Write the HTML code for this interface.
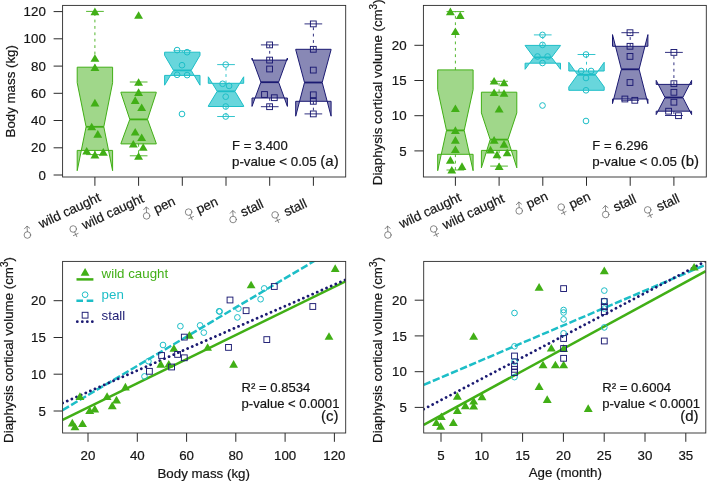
<!DOCTYPE html>
<html><head><meta charset="utf-8"><title>Figure</title>
<style>html,body{margin:0;padding:0;background:#fff;}svg{display:block;will-change:transform;}text{font-family:"Liberation Sans",sans-serif;stroke-width:0.2px;paint-order:stroke;}</style>
</head><body>
<svg width="708" height="483" viewBox="0 0 708 483">
<rect x="0" y="0" width="708" height="483" fill="#ffffff"/>
<line x1="94.9" y1="67.2" x2="94.9" y2="11.4" stroke="#41AF16" stroke-width="0.9" stroke-dasharray="2.8 3.6"/>
<line x1="86.1" y1="11.4" x2="103.8" y2="11.4" stroke="#41AF16" stroke-width="0.9"/>
<line x1="94.9" y1="150.4" x2="94.9" y2="154.6" stroke="#41AF16" stroke-width="0.9" stroke-dasharray="2.8 3.6"/>
<line x1="86.1" y1="154.6" x2="103.8" y2="154.6" stroke="#41AF16" stroke-width="0.9"/>
<polygon points="77.2,150.4 112.6,150.4 112.6,170.7 103.8,126.8 112.6,82.7 112.6,67.2 77.2,67.2 77.2,82.7 86.1,126.8 77.2,170.7" fill="rgba(65,175,22,0.50)" stroke="#41AF16" stroke-width="1" stroke-linejoin="miter" fill-rule="nonzero"/>
<line x1="86.1" y1="126.8" x2="103.8" y2="126.8" stroke="#41AF16" stroke-width="1.8"/>
<line x1="138.6" y1="92.2" x2="138.6" y2="82.0" stroke="#41AF16" stroke-width="0.9" stroke-dasharray="2.8 3.6"/>
<line x1="129.8" y1="82.0" x2="147.5" y2="82.0" stroke="#41AF16" stroke-width="0.9"/>
<line x1="138.6" y1="143.9" x2="138.6" y2="155.8" stroke="#41AF16" stroke-width="0.9" stroke-dasharray="2.8 3.6"/>
<line x1="129.8" y1="155.8" x2="147.5" y2="155.8" stroke="#41AF16" stroke-width="0.9"/>
<polygon points="120.9,143.9 156.3,143.9 156.3,143.6 147.5,119.4 156.3,92.6 156.3,92.2 120.9,92.2 120.9,92.6 129.8,119.4 120.9,143.6" fill="rgba(65,175,22,0.50)" stroke="#41AF16" stroke-width="1" stroke-linejoin="miter" fill-rule="nonzero"/>
<line x1="129.8" y1="119.4" x2="147.5" y2="119.4" stroke="#41AF16" stroke-width="1.8"/>
<line x1="182.3" y1="52.2" x2="182.3" y2="50.7" stroke="#1DBEC7" stroke-width="0.9" stroke-dasharray="2.8 3.6"/>
<line x1="173.5" y1="50.7" x2="191.2" y2="50.7" stroke="#1DBEC7" stroke-width="0.9"/>
<polygon points="164.6,75.4 200.0,75.4 200.0,85.2 191.2,70.4 200.0,55.3 200.0,52.2 164.6,52.2 164.6,55.3 173.5,70.4 164.6,85.2" fill="rgba(33,195,203,0.68)" stroke="#1DBEC7" stroke-width="1" stroke-linejoin="miter" fill-rule="nonzero"/>
<line x1="173.5" y1="70.4" x2="191.2" y2="70.4" stroke="#1DBEC7" stroke-width="1.8"/>
<line x1="226.0" y1="83.3" x2="226.0" y2="64.6" stroke="#1DBEC7" stroke-width="0.9" stroke-dasharray="2.8 3.6"/>
<line x1="217.2" y1="64.6" x2="234.9" y2="64.6" stroke="#1DBEC7" stroke-width="0.9"/>
<line x1="226.0" y1="106.5" x2="226.0" y2="116.5" stroke="#1DBEC7" stroke-width="0.9" stroke-dasharray="2.8 3.6"/>
<line x1="217.2" y1="116.5" x2="234.9" y2="116.5" stroke="#1DBEC7" stroke-width="0.9"/>
<polygon points="208.3,106.5 243.7,106.5 243.7,106.0 234.9,91.3 243.7,76.8 243.7,83.3 208.3,83.3 208.3,76.8 217.2,91.3 208.3,106.0" fill="rgba(33,195,203,0.68)" stroke="#1DBEC7" stroke-width="1" stroke-linejoin="miter" fill-rule="nonzero"/>
<line x1="217.2" y1="91.3" x2="234.9" y2="91.3" stroke="#1DBEC7" stroke-width="1.8"/>
<line x1="269.7" y1="60.1" x2="269.7" y2="44.9" stroke="#1B1A72" stroke-width="0.9" stroke-dasharray="2.8 3.6"/>
<line x1="260.9" y1="44.9" x2="278.6" y2="44.9" stroke="#1B1A72" stroke-width="0.9"/>
<line x1="269.7" y1="98.0" x2="269.7" y2="106.7" stroke="#1B1A72" stroke-width="0.9" stroke-dasharray="2.8 3.6"/>
<line x1="260.9" y1="106.7" x2="278.6" y2="106.7" stroke="#1B1A72" stroke-width="0.9"/>
<polygon points="252.0,98.0 287.4,98.0 287.4,106.4 278.6,82.2 287.4,58.0 287.4,60.1 252.0,60.1 252.0,58.0 260.9,82.2 252.0,106.4" fill="rgba(27,26,114,0.52)" stroke="#1B1A72" stroke-width="1" stroke-linejoin="miter" fill-rule="nonzero"/>
<line x1="260.9" y1="82.2" x2="278.6" y2="82.2" stroke="#1B1A72" stroke-width="1.8"/>
<line x1="313.4" y1="49.3" x2="313.4" y2="23.9" stroke="#1B1A72" stroke-width="0.9" stroke-dasharray="2.8 3.6"/>
<line x1="304.5" y1="23.9" x2="322.2" y2="23.9" stroke="#1B1A72" stroke-width="0.9"/>
<line x1="313.4" y1="101.3" x2="313.4" y2="113.9" stroke="#1B1A72" stroke-width="0.9" stroke-dasharray="2.8 3.6"/>
<line x1="304.5" y1="113.9" x2="322.2" y2="113.9" stroke="#1B1A72" stroke-width="0.9"/>
<polygon points="295.7,101.3 331.1,101.3 331.1,116.2 322.2,82.5 331.1,49.6 331.1,49.3 295.7,49.3 295.7,49.6 304.5,82.5 295.7,116.2" fill="rgba(27,26,114,0.52)" stroke="#1B1A72" stroke-width="1" stroke-linejoin="miter" fill-rule="nonzero"/>
<line x1="304.5" y1="82.5" x2="322.2" y2="82.5" stroke="#1B1A72" stroke-width="1.8"/>
<polygon points="94.9,7.6 99.4,15.2 90.5,15.2" fill="#41AF16"/>
<polygon points="94.9,54.2 99.4,61.8 90.5,61.8" fill="#41AF16"/>
<polygon points="94.9,63.4 99.4,71.0 90.5,71.0" fill="#41AF16"/>
<polygon points="94.9,98.8 99.4,106.4 90.5,106.4" fill="#41AF16"/>
<polygon points="91.7,122.7 96.2,130.3 87.2,130.3" fill="#41AF16"/>
<polygon points="97.8,130.1 102.2,137.7 93.3,137.7" fill="#41AF16"/>
<polygon points="86.7,147.0 91.2,154.6 82.2,154.6" fill="#41AF16"/>
<polygon points="94.9,150.8 99.4,158.4 90.5,158.4" fill="#41AF16"/>
<polygon points="103.3,148.1 107.8,155.7 98.8,155.7" fill="#41AF16"/>
<polygon points="138.6,11.2 143.0,18.8 134.1,18.8" fill="#41AF16"/>
<polygon points="138.6,78.2 143.0,85.8 134.1,85.8" fill="#41AF16"/>
<polygon points="138.6,88.3 143.0,95.9 134.1,95.9" fill="#41AF16"/>
<polygon points="135.2,96.3 139.6,103.9 130.8,103.9" fill="#41AF16"/>
<polygon points="141.7,103.4 146.1,111.0 137.2,111.0" fill="#41AF16"/>
<polygon points="135.2,128.0 139.6,135.6 130.8,135.6" fill="#41AF16"/>
<polygon points="141.7,133.4 146.1,141.0 137.2,141.0" fill="#41AF16"/>
<polygon points="133.3,140.0 137.8,147.6 128.9,147.6" fill="#41AF16"/>
<polygon points="143.2,143.2 147.6,150.8 138.8,150.8" fill="#41AF16"/>
<polygon points="138.6,152.2 143.0,159.8 134.1,159.8" fill="#41AF16"/>
<circle cx="177.1" cy="50.1" r="2.85" fill="none" stroke="#1DBEC7" stroke-width="1.0"/>
<circle cx="187.1" cy="52.2" r="2.85" fill="none" stroke="#1DBEC7" stroke-width="1.0"/>
<circle cx="182.0" cy="65.2" r="2.85" fill="none" stroke="#1DBEC7" stroke-width="1.0"/>
<circle cx="177.1" cy="74.8" r="2.85" fill="none" stroke="#1DBEC7" stroke-width="1.0"/>
<circle cx="187.1" cy="75.1" r="2.85" fill="none" stroke="#1DBEC7" stroke-width="1.0"/>
<circle cx="182.0" cy="114.0" r="2.85" fill="none" stroke="#1DBEC7" stroke-width="1.0"/>
<circle cx="225.7" cy="64.6" r="2.85" fill="none" stroke="#1DBEC7" stroke-width="1.0"/>
<circle cx="222.6" cy="83.8" r="2.85" fill="none" stroke="#1DBEC7" stroke-width="1.0"/>
<circle cx="229.1" cy="85.9" r="2.85" fill="none" stroke="#1DBEC7" stroke-width="1.0"/>
<circle cx="225.7" cy="96.7" r="2.85" fill="none" stroke="#1DBEC7" stroke-width="1.0"/>
<circle cx="225.7" cy="106.5" r="2.85" fill="none" stroke="#1DBEC7" stroke-width="1.0"/>
<circle cx="225.7" cy="116.5" r="2.85" fill="none" stroke="#1DBEC7" stroke-width="1.0"/>
<rect x="266.70" y="42.00" width="5.80" height="5.80" fill="none" stroke="#1B1A72" stroke-width="0.95"/>
<rect x="266.70" y="57.20" width="5.80" height="5.80" fill="none" stroke="#1B1A72" stroke-width="0.95"/>
<rect x="266.70" y="66.10" width="5.80" height="5.80" fill="none" stroke="#1B1A72" stroke-width="0.95"/>
<rect x="261.60" y="91.60" width="5.80" height="5.80" fill="none" stroke="#1B1A72" stroke-width="0.95"/>
<rect x="271.40" y="94.80" width="5.80" height="5.80" fill="none" stroke="#1B1A72" stroke-width="0.95"/>
<rect x="266.70" y="103.80" width="5.80" height="5.80" fill="none" stroke="#1B1A72" stroke-width="0.95"/>
<rect x="310.40" y="21.00" width="5.80" height="5.80" fill="none" stroke="#1B1A72" stroke-width="0.95"/>
<rect x="310.40" y="46.40" width="5.80" height="5.80" fill="none" stroke="#1B1A72" stroke-width="0.95"/>
<rect x="310.40" y="67.20" width="5.80" height="5.80" fill="none" stroke="#1B1A72" stroke-width="0.95"/>
<rect x="310.40" y="91.90" width="5.80" height="5.80" fill="none" stroke="#1B1A72" stroke-width="0.95"/>
<rect x="310.40" y="98.40" width="5.80" height="5.80" fill="none" stroke="#1B1A72" stroke-width="0.95"/>
<rect x="310.40" y="111.00" width="5.80" height="5.80" fill="none" stroke="#1B1A72" stroke-width="0.95"/>
<rect x="62.6" y="5.4" width="283.1" height="171.6" fill="none" stroke="#2b2b2b" stroke-width="0.9"/>
<line x1="53.6" y1="175.0" x2="62.6" y2="175.0" stroke="#2b2b2b" stroke-width="1"/>
<text x="45.8" y="179.6" font-size="13.3" text-anchor="end" fill="#141414" stroke="#141414" >0</text>
<line x1="53.6" y1="147.8" x2="62.6" y2="147.8" stroke="#2b2b2b" stroke-width="1"/>
<text x="45.8" y="152.4" font-size="13.3" text-anchor="end" fill="#141414" stroke="#141414" >20</text>
<line x1="53.6" y1="120.5" x2="62.6" y2="120.5" stroke="#2b2b2b" stroke-width="1"/>
<text x="45.8" y="125.1" font-size="13.3" text-anchor="end" fill="#141414" stroke="#141414" >40</text>
<line x1="53.6" y1="93.3" x2="62.6" y2="93.3" stroke="#2b2b2b" stroke-width="1"/>
<text x="45.8" y="97.9" font-size="13.3" text-anchor="end" fill="#141414" stroke="#141414" >60</text>
<line x1="53.6" y1="66.1" x2="62.6" y2="66.1" stroke="#2b2b2b" stroke-width="1"/>
<text x="45.8" y="70.7" font-size="13.3" text-anchor="end" fill="#141414" stroke="#141414" >80</text>
<line x1="53.6" y1="38.8" x2="62.6" y2="38.8" stroke="#2b2b2b" stroke-width="1"/>
<text x="45.8" y="43.4" font-size="13.3" text-anchor="end" fill="#141414" stroke="#141414" >100</text>
<line x1="53.6" y1="11.6" x2="62.6" y2="11.6" stroke="#2b2b2b" stroke-width="1"/>
<text x="45.8" y="16.2" font-size="13.3" text-anchor="end" fill="#141414" stroke="#141414" >120</text>
<line x1="94.9" y1="177.0" x2="94.9" y2="185.8" stroke="#2b2b2b" stroke-width="1"/>
<line x1="138.6" y1="177.0" x2="138.6" y2="185.8" stroke="#2b2b2b" stroke-width="1"/>
<line x1="182.3" y1="177.0" x2="182.3" y2="185.8" stroke="#2b2b2b" stroke-width="1"/>
<line x1="226.0" y1="177.0" x2="226.0" y2="185.8" stroke="#2b2b2b" stroke-width="1"/>
<line x1="269.7" y1="177.0" x2="269.7" y2="185.8" stroke="#2b2b2b" stroke-width="1"/>
<line x1="313.4" y1="177.0" x2="313.4" y2="185.8" stroke="#2b2b2b" stroke-width="1"/>
<text transform="translate(15.4,91.3) rotate(-90)" font-size="13.3" text-anchor="middle" fill="#141414" stroke="#141414">Body mass (kg)</text>
<text x="232.0" y="150.0" font-size="13.1" text-anchor="start" fill="#141414" stroke="#141414" >F = 3.400</text>
<text x="232.0" y="165.9" font-size="13.3" text-anchor="start" fill="#141414" stroke="#141414" >p-value &lt; 0.05 <tspan font-size="15">(a)</tspan></text>
<g fill="none" stroke="#626262" stroke-width="0.75" stroke-linecap="round"><circle cx="27.4" cy="235.0" r="3.3"/><path d="M27.4,231.7 L27.0,226.3 M24.5,228.8 L27.0,226.1 L29.7,228.2"/></g>
<text transform="translate(41.2,228.6) rotate(-25)" font-size="13.3" fill="#141414" stroke="#141414">wild caught</text>
<g fill="none" stroke="#626262" stroke-width="0.75" stroke-linecap="round"><circle cx="73.2" cy="229.0" r="3.3"/><path d="M74.6,232.0 L76.8,236.7 M73.4,235.6 L78.1,233.4"/></g>
<text transform="translate(84.5,229.7) rotate(-25)" font-size="13.3" fill="#141414" stroke="#141414">wild caught</text>
<g fill="none" stroke="#626262" stroke-width="0.75" stroke-linecap="round"><circle cx="146.6" cy="215.9" r="3.3"/><path d="M146.6,212.6 L146.2,207.2 M143.7,209.7 L146.2,207.0 L148.9,209.1"/></g>
<text transform="translate(156.2,213.7) rotate(-25)" font-size="13.3" fill="#141414" stroke="#141414">pen</text>
<g fill="none" stroke="#626262" stroke-width="0.75" stroke-linecap="round"><circle cx="188.6" cy="212.1" r="3.3"/><path d="M190.0,215.1 L192.2,219.8 M188.8,218.7 L193.5,216.5"/></g>
<text transform="translate(198.8,214.1) rotate(-25)" font-size="13.3" fill="#141414" stroke="#141414">pen</text>
<g fill="none" stroke="#626262" stroke-width="0.75" stroke-linecap="round"><circle cx="233.1" cy="219.5" r="3.3"/><path d="M233.1,216.2 L232.7,210.8 M230.2,213.3 L232.7,210.6 L235.4,212.7"/></g>
<text transform="translate(243.1,217.0) rotate(-25)" font-size="13.3" fill="#141414" stroke="#141414">stall</text>
<g fill="none" stroke="#626262" stroke-width="0.75" stroke-linecap="round"><circle cx="275.1" cy="214.9" r="3.3"/><path d="M276.5,217.9 L278.7,222.6 M275.3,221.5 L280.0,219.3"/></g>
<text transform="translate(286.5,216.6) rotate(-25)" font-size="13.3" fill="#141414" stroke="#141414">stall</text>
<line x1="455.4" y1="69.9" x2="455.4" y2="11.6" stroke="#41AF16" stroke-width="0.9" stroke-dasharray="2.8 3.6"/>
<line x1="446.5" y1="11.6" x2="464.2" y2="11.6" stroke="#41AF16" stroke-width="0.9"/>
<line x1="455.4" y1="154.3" x2="455.4" y2="170.0" stroke="#41AF16" stroke-width="0.9" stroke-dasharray="2.8 3.6"/>
<line x1="446.5" y1="170.0" x2="464.2" y2="170.0" stroke="#41AF16" stroke-width="0.9"/>
<polygon points="437.7,154.3 473.1,154.3 473.1,170.7 464.2,130.4 473.1,89.7 473.1,69.9 437.7,69.9 437.7,89.7 446.5,130.4 437.7,170.7" fill="rgba(65,175,22,0.50)" stroke="#41AF16" stroke-width="1" stroke-linejoin="miter" fill-rule="nonzero"/>
<line x1="446.5" y1="130.4" x2="464.2" y2="130.4" stroke="#41AF16" stroke-width="1.8"/>
<line x1="499.1" y1="92.2" x2="499.1" y2="81.3" stroke="#41AF16" stroke-width="0.9" stroke-dasharray="2.8 3.6"/>
<line x1="490.2" y1="81.3" x2="507.9" y2="81.3" stroke="#41AF16" stroke-width="0.9"/>
<line x1="499.1" y1="150.4" x2="499.1" y2="166.1" stroke="#41AF16" stroke-width="0.9" stroke-dasharray="2.8 3.6"/>
<line x1="490.2" y1="166.1" x2="507.9" y2="166.1" stroke="#41AF16" stroke-width="0.9"/>
<polygon points="481.4,150.4 516.8,150.4 516.8,167.8 507.9,139.6 516.8,112.9 516.8,92.2 481.4,92.2 481.4,112.9 490.2,139.6 481.4,167.8" fill="rgba(65,175,22,0.50)" stroke="#41AF16" stroke-width="1" stroke-linejoin="miter" fill-rule="nonzero"/>
<line x1="490.2" y1="139.6" x2="507.9" y2="139.6" stroke="#41AF16" stroke-width="1.8"/>
<line x1="542.8" y1="45.4" x2="542.8" y2="34.9" stroke="#1DBEC7" stroke-width="0.9" stroke-dasharray="2.8 3.6"/>
<line x1="533.9" y1="34.9" x2="551.6" y2="34.9" stroke="#1DBEC7" stroke-width="0.9"/>
<polygon points="525.1,63.2 560.5,63.2 560.5,69.3 551.6,57.4 560.5,45.6 560.5,45.4 525.1,45.4 525.1,45.6 533.9,57.4 525.1,69.3" fill="rgba(33,195,203,0.68)" stroke="#1DBEC7" stroke-width="1" stroke-linejoin="miter" fill-rule="nonzero"/>
<line x1="533.9" y1="57.4" x2="551.6" y2="57.4" stroke="#1DBEC7" stroke-width="1.8"/>
<line x1="586.5" y1="71.0" x2="586.5" y2="54.5" stroke="#1DBEC7" stroke-width="0.9" stroke-dasharray="2.8 3.6"/>
<line x1="577.6" y1="54.5" x2="595.4" y2="54.5" stroke="#1DBEC7" stroke-width="0.9"/>
<polygon points="568.8,90.3 604.2,90.3 604.2,87.0 595.4,74.8 604.2,62.3 604.2,71.0 568.8,71.0 568.8,62.3 577.6,74.8 568.8,87.0" fill="rgba(33,195,203,0.68)" stroke="#1DBEC7" stroke-width="1" stroke-linejoin="miter" fill-rule="nonzero"/>
<line x1="577.6" y1="74.8" x2="595.4" y2="74.8" stroke="#1DBEC7" stroke-width="1.8"/>
<line x1="630.2" y1="46.3" x2="630.2" y2="32.7" stroke="#1B1A72" stroke-width="0.9" stroke-dasharray="2.8 3.6"/>
<line x1="621.4" y1="32.7" x2="639.1" y2="32.7" stroke="#1B1A72" stroke-width="0.9"/>
<line x1="630.2" y1="99.0" x2="630.2" y2="100.3" stroke="#1B1A72" stroke-width="0.9" stroke-dasharray="2.8 3.6"/>
<line x1="621.4" y1="100.3" x2="639.1" y2="100.3" stroke="#1B1A72" stroke-width="0.9"/>
<polygon points="612.5,99.0 647.9,99.0 647.9,103.6 639.1,69.3 647.9,34.6 647.9,46.3 612.5,46.3 612.5,34.6 621.4,69.3 612.5,103.6" fill="rgba(27,26,114,0.52)" stroke="#1B1A72" stroke-width="1" stroke-linejoin="miter" fill-rule="nonzero"/>
<line x1="621.4" y1="69.3" x2="639.1" y2="69.3" stroke="#1B1A72" stroke-width="1.8"/>
<line x1="673.9" y1="84.4" x2="673.9" y2="52.4" stroke="#1B1A72" stroke-width="0.9" stroke-dasharray="2.8 3.6"/>
<line x1="665.0" y1="52.4" x2="682.8" y2="52.4" stroke="#1B1A72" stroke-width="0.9"/>
<line x1="673.9" y1="111.2" x2="673.9" y2="115.5" stroke="#1B1A72" stroke-width="0.9" stroke-dasharray="2.8 3.6"/>
<line x1="665.0" y1="115.5" x2="682.8" y2="115.5" stroke="#1B1A72" stroke-width="0.9"/>
<polygon points="656.2,111.2 691.6,111.2 691.6,114.6 682.8,97.5 691.6,80.4 691.6,84.4 656.2,84.4 656.2,80.4 665.0,97.5 656.2,114.6" fill="rgba(27,26,114,0.52)" stroke="#1B1A72" stroke-width="1" stroke-linejoin="miter" fill-rule="nonzero"/>
<line x1="665.0" y1="97.5" x2="682.8" y2="97.5" stroke="#1B1A72" stroke-width="1.8"/>
<polygon points="450.4,7.6 454.8,15.2 445.9,15.2" fill="#41AF16"/>
<polygon points="460.2,11.4 464.6,19.0 455.8,19.0" fill="#41AF16"/>
<polygon points="455.4,27.5 459.8,35.1 450.9,35.1" fill="#41AF16"/>
<polygon points="455.4,104.5 459.8,112.1 450.9,112.1" fill="#41AF16"/>
<polygon points="455.4,126.3 459.8,133.9 450.9,133.9" fill="#41AF16"/>
<polygon points="455.4,136.1 459.8,143.7 450.9,143.7" fill="#41AF16"/>
<polygon points="455.4,145.4 459.8,153.0 450.9,153.0" fill="#41AF16"/>
<polygon points="450.4,156.1 454.8,163.7 445.9,163.7" fill="#41AF16"/>
<polygon points="462.0,162.3 466.4,169.9 457.6,169.9" fill="#41AF16"/>
<polygon points="451.8,165.9 456.2,173.5 447.4,173.5" fill="#41AF16"/>
<polygon points="494.1,76.9 498.6,84.5 489.7,84.5" fill="#41AF16"/>
<polygon points="504.0,78.7 508.4,86.3 499.6,86.3" fill="#41AF16"/>
<polygon points="494.1,88.5 498.6,96.1 489.7,96.1" fill="#41AF16"/>
<polygon points="504.0,89.2 508.4,96.8 499.6,96.8" fill="#41AF16"/>
<polygon points="499.1,105.0 503.6,112.6 494.7,112.6" fill="#41AF16"/>
<polygon points="494.1,136.1 498.6,143.7 489.7,143.7" fill="#41AF16"/>
<polygon points="504.0,140.1 508.4,147.7 499.6,147.7" fill="#41AF16"/>
<polygon points="490.5,145.8 494.9,153.4 486.1,153.4" fill="#41AF16"/>
<polygon points="507.2,148.7 511.6,156.3 502.8,156.3" fill="#41AF16"/>
<polygon points="497.0,150.6 501.4,158.2 492.6,158.2" fill="#41AF16"/>
<polygon points="499.1,162.4 503.6,170.0 494.7,170.0" fill="#41AF16"/>
<circle cx="542.5" cy="34.9" r="2.85" fill="none" stroke="#1DBEC7" stroke-width="1.0"/>
<circle cx="542.5" cy="44.9" r="2.85" fill="none" stroke="#1DBEC7" stroke-width="1.0"/>
<circle cx="537.5" cy="56.5" r="2.85" fill="none" stroke="#1DBEC7" stroke-width="1.0"/>
<circle cx="547.6" cy="56.5" r="2.85" fill="none" stroke="#1DBEC7" stroke-width="1.0"/>
<circle cx="542.5" cy="63.0" r="2.85" fill="none" stroke="#1DBEC7" stroke-width="1.0"/>
<circle cx="542.5" cy="105.5" r="2.85" fill="none" stroke="#1DBEC7" stroke-width="1.0"/>
<circle cx="586.0" cy="54.5" r="2.85" fill="none" stroke="#1DBEC7" stroke-width="1.0"/>
<circle cx="581.2" cy="71.0" r="2.85" fill="none" stroke="#1DBEC7" stroke-width="1.0"/>
<circle cx="591.1" cy="71.0" r="2.85" fill="none" stroke="#1DBEC7" stroke-width="1.0"/>
<circle cx="586.0" cy="78.0" r="2.85" fill="none" stroke="#1DBEC7" stroke-width="1.0"/>
<circle cx="586.0" cy="90.3" r="2.85" fill="none" stroke="#1DBEC7" stroke-width="1.0"/>
<circle cx="586.0" cy="121.0" r="2.85" fill="none" stroke="#1DBEC7" stroke-width="1.0"/>
<rect x="627.10" y="29.80" width="5.80" height="5.80" fill="none" stroke="#1B1A72" stroke-width="0.95"/>
<rect x="627.10" y="43.40" width="5.80" height="5.80" fill="none" stroke="#1B1A72" stroke-width="0.95"/>
<rect x="627.10" y="53.50" width="5.80" height="5.80" fill="none" stroke="#1B1A72" stroke-width="0.95"/>
<rect x="627.10" y="79.60" width="5.80" height="5.80" fill="none" stroke="#1B1A72" stroke-width="0.95"/>
<rect x="622.00" y="96.10" width="5.80" height="5.80" fill="none" stroke="#1B1A72" stroke-width="0.95"/>
<rect x="631.90" y="97.40" width="5.80" height="5.80" fill="none" stroke="#1B1A72" stroke-width="0.95"/>
<rect x="671.00" y="49.50" width="5.80" height="5.80" fill="none" stroke="#1B1A72" stroke-width="0.95"/>
<rect x="671.00" y="80.80" width="5.80" height="5.80" fill="none" stroke="#1B1A72" stroke-width="0.95"/>
<rect x="671.00" y="89.40" width="5.80" height="5.80" fill="none" stroke="#1B1A72" stroke-width="0.95"/>
<rect x="671.00" y="99.30" width="5.80" height="5.80" fill="none" stroke="#1B1A72" stroke-width="0.95"/>
<rect x="665.70" y="108.30" width="5.80" height="5.80" fill="none" stroke="#1B1A72" stroke-width="0.95"/>
<rect x="675.60" y="112.80" width="5.80" height="5.80" fill="none" stroke="#1B1A72" stroke-width="0.95"/>
<rect x="423.4" y="5.4" width="282.9" height="171.6" fill="none" stroke="#2b2b2b" stroke-width="0.9"/>
<line x1="414.4" y1="150.9" x2="423.4" y2="150.9" stroke="#2b2b2b" stroke-width="1"/>
<text x="406.6" y="155.5" font-size="13.3" text-anchor="end" fill="#141414" stroke="#141414" >5</text>
<line x1="414.4" y1="115.7" x2="423.4" y2="115.7" stroke="#2b2b2b" stroke-width="1"/>
<text x="406.6" y="120.3" font-size="13.3" text-anchor="end" fill="#141414" stroke="#141414" >10</text>
<line x1="414.4" y1="80.5" x2="423.4" y2="80.5" stroke="#2b2b2b" stroke-width="1"/>
<text x="406.6" y="85.1" font-size="13.3" text-anchor="end" fill="#141414" stroke="#141414" >15</text>
<line x1="414.4" y1="45.3" x2="423.4" y2="45.3" stroke="#2b2b2b" stroke-width="1"/>
<text x="406.6" y="49.9" font-size="13.3" text-anchor="end" fill="#141414" stroke="#141414" >20</text>
<line x1="455.4" y1="177.0" x2="455.4" y2="185.8" stroke="#2b2b2b" stroke-width="1"/>
<line x1="499.1" y1="177.0" x2="499.1" y2="185.8" stroke="#2b2b2b" stroke-width="1"/>
<line x1="542.8" y1="177.0" x2="542.8" y2="185.8" stroke="#2b2b2b" stroke-width="1"/>
<line x1="586.5" y1="177.0" x2="586.5" y2="185.8" stroke="#2b2b2b" stroke-width="1"/>
<line x1="630.2" y1="177.0" x2="630.2" y2="185.8" stroke="#2b2b2b" stroke-width="1"/>
<line x1="673.9" y1="177.0" x2="673.9" y2="185.8" stroke="#2b2b2b" stroke-width="1"/>
<text transform="translate(382.0,92.3) rotate(-90)" font-size="13.3" text-anchor="middle" fill="#141414" stroke="#141414">Diaphysis cortical volume (cm<tspan font-size="10" dy="-4.6">3</tspan><tspan dy="4.6">)</tspan></text>
<text x="592.3" y="150.0" font-size="13.1" text-anchor="start" fill="#141414" stroke="#141414" >F = 6.296</text>
<text x="592.3" y="165.9" font-size="13.3" text-anchor="start" fill="#141414" stroke="#141414" >p-value &lt; 0.05 <tspan font-size="15">(b)</tspan></text>
<g fill="none" stroke="#626262" stroke-width="0.75" stroke-linecap="round"><circle cx="387.9" cy="235.0" r="3.3"/><path d="M387.9,231.7 L387.5,226.3 M385.0,228.8 L387.5,226.1 L390.2,228.2"/></g>
<text transform="translate(401.7,228.6) rotate(-25)" font-size="13.3" fill="#141414" stroke="#141414">wild caught</text>
<g fill="none" stroke="#626262" stroke-width="0.75" stroke-linecap="round"><circle cx="433.7" cy="229.0" r="3.3"/><path d="M435.1,232.0 L437.3,236.7 M433.9,235.6 L438.6,233.4"/></g>
<text transform="translate(445.0,229.7) rotate(-25)" font-size="13.3" fill="#141414" stroke="#141414">wild caught</text>
<g fill="none" stroke="#626262" stroke-width="0.75" stroke-linecap="round"><circle cx="519.2" cy="210.9" r="3.3"/><path d="M519.2,207.6 L518.8,202.2 M516.3,204.7 L518.8,202.0 L521.5,204.1"/></g>
<text transform="translate(528.8,208.7) rotate(-25)" font-size="13.3" fill="#141414" stroke="#141414">pen</text>
<g fill="none" stroke="#626262" stroke-width="0.75" stroke-linecap="round"><circle cx="561.2" cy="207.1" r="3.3"/><path d="M562.6,210.1 L564.8,214.8 M561.4,213.7 L566.1,211.5"/></g>
<text transform="translate(571.4,209.1) rotate(-25)" font-size="13.3" fill="#141414" stroke="#141414">pen</text>
<g fill="none" stroke="#626262" stroke-width="0.75" stroke-linecap="round"><circle cx="605.7" cy="214.5" r="3.3"/><path d="M605.7,211.2 L605.3,205.8 M602.8,208.3 L605.3,205.6 L608.0,207.7"/></g>
<text transform="translate(615.7,212.0) rotate(-25)" font-size="13.3" fill="#141414" stroke="#141414">stall</text>
<g fill="none" stroke="#626262" stroke-width="0.75" stroke-linecap="round"><circle cx="647.7" cy="209.9" r="3.3"/><path d="M649.1,212.9 L651.3,217.6 M647.9,216.5 L652.6,214.3"/></g>
<text transform="translate(659.1,211.6) rotate(-25)" font-size="13.3" fill="#141414" stroke="#141414">stall</text>
<clipPath id="cc"><rect x="62.6" y="261.4" width="283.09999999999997" height="171.60000000000002"/></clipPath>
<line x1="62.6" y1="419.8" x2="345.7" y2="281.3" stroke="#41AF16" stroke-width="2.5" clip-path="url(#cc)"/>
<line x1="62.6" y1="410.1" x2="345.7" y2="242.4" stroke="#1DBEC7" stroke-width="2.5" stroke-dasharray="7.4 2.5" stroke-dashoffset="0" clip-path="url(#cc)"/>
<line x1="62.6" y1="403.0" x2="345.7" y2="279.7" stroke="#1B1A72" stroke-width="2.8" stroke-dasharray="0.01 5.04" stroke-linecap="round" stroke-dashoffset="0" clip-path="url(#cc)"/>
<polygon points="72.3,418.8 76.8,426.4 67.8,426.4" fill="#41AF16"/>
<polygon points="74.9,422.7 79.4,430.3 70.5,430.3" fill="#41AF16"/>
<polygon points="82.5,419.4 87.0,427.0 78.0,427.0" fill="#41AF16"/>
<polygon points="79.9,392.3 84.4,399.9 75.5,399.9" fill="#41AF16"/>
<polygon points="89.7,406.5 94.2,414.1 85.2,414.1" fill="#41AF16"/>
<polygon points="94.8,404.8 99.2,412.4 90.3,412.4" fill="#41AF16"/>
<polygon points="107.1,392.3 111.5,399.9 102.6,399.9" fill="#41AF16"/>
<polygon points="112.2,401.6 116.7,409.2 107.8,409.2" fill="#41AF16"/>
<polygon points="116.5,395.8 121.0,403.4 112.0,403.4" fill="#41AF16"/>
<polygon points="125.4,382.8 129.8,390.4 121.0,390.4" fill="#41AF16"/>
<polygon points="160.8,360.1 165.2,367.7 156.4,367.7" fill="#41AF16"/>
<polygon points="168.8,359.9 173.2,367.5 164.4,367.5" fill="#41AF16"/>
<polygon points="173.9,344.2 178.3,351.8 169.5,351.8" fill="#41AF16"/>
<polygon points="189.4,331.1 193.8,338.7 185.0,338.7" fill="#41AF16"/>
<polygon points="207.6,343.2 212.0,350.8 203.2,350.8" fill="#41AF16"/>
<polygon points="233.6,360.1 238.0,367.7 229.2,367.7" fill="#41AF16"/>
<polygon points="251.1,280.7 255.5,288.3 246.7,288.3" fill="#41AF16"/>
<polygon points="335.2,264.3 339.6,271.9 330.8,271.9" fill="#41AF16"/>
<polygon points="329.0,332.2 333.4,339.8 324.6,339.8" fill="#41AF16"/>
<circle cx="144.5" cy="376.4" r="2.85" fill="none" stroke="#1DBEC7" stroke-width="1.0"/>
<circle cx="148.4" cy="361.2" r="2.85" fill="none" stroke="#1DBEC7" stroke-width="1.0"/>
<circle cx="163.0" cy="345.0" r="2.85" fill="none" stroke="#1DBEC7" stroke-width="1.0"/>
<circle cx="180.4" cy="326.2" r="2.85" fill="none" stroke="#1DBEC7" stroke-width="1.0"/>
<circle cx="200.1" cy="325.4" r="2.85" fill="none" stroke="#1DBEC7" stroke-width="1.0"/>
<circle cx="203.8" cy="332.6" r="2.85" fill="none" stroke="#1DBEC7" stroke-width="1.0"/>
<circle cx="219.1" cy="311.3" r="2.85" fill="none" stroke="#1DBEC7" stroke-width="1.0"/>
<circle cx="219.7" cy="311.5" r="2.85" fill="none" stroke="#1DBEC7" stroke-width="1.0"/>
<circle cx="237.4" cy="317.4" r="2.85" fill="none" stroke="#1DBEC7" stroke-width="1.0"/>
<circle cx="238.4" cy="308.6" r="2.85" fill="none" stroke="#1DBEC7" stroke-width="1.0"/>
<circle cx="260.6" cy="299.2" r="2.85" fill="none" stroke="#1DBEC7" stroke-width="1.0"/>
<circle cx="264.2" cy="288.4" r="2.85" fill="none" stroke="#1DBEC7" stroke-width="1.0"/>
<rect x="146.50" y="368.40" width="5.80" height="5.80" fill="none" stroke="#1B1A72" stroke-width="0.95"/>
<rect x="158.70" y="352.60" width="5.80" height="5.80" fill="none" stroke="#1B1A72" stroke-width="0.95"/>
<rect x="168.70" y="364.10" width="5.80" height="5.80" fill="none" stroke="#1B1A72" stroke-width="0.95"/>
<rect x="174.70" y="351.50" width="5.80" height="5.80" fill="none" stroke="#1B1A72" stroke-width="0.95"/>
<rect x="181.40" y="354.90" width="5.80" height="5.80" fill="none" stroke="#1B1A72" stroke-width="0.95"/>
<rect x="181.40" y="334.20" width="5.80" height="5.80" fill="none" stroke="#1B1A72" stroke-width="0.95"/>
<rect x="225.60" y="344.50" width="5.80" height="5.80" fill="none" stroke="#1B1A72" stroke-width="0.95"/>
<rect x="227.10" y="297.10" width="5.80" height="5.80" fill="none" stroke="#1B1A72" stroke-width="0.95"/>
<rect x="243.20" y="307.80" width="5.80" height="5.80" fill="none" stroke="#1B1A72" stroke-width="0.95"/>
<rect x="271.40" y="283.60" width="5.80" height="5.80" fill="none" stroke="#1B1A72" stroke-width="0.95"/>
<rect x="309.90" y="303.60" width="5.80" height="5.80" fill="none" stroke="#1B1A72" stroke-width="0.95"/>
<rect x="263.90" y="336.70" width="5.80" height="5.80" fill="none" stroke="#1B1A72" stroke-width="0.95"/>
<rect x="62.6" y="261.4" width="283.1" height="171.6" fill="none" stroke="#2b2b2b" stroke-width="0.9"/>
<line x1="53.6" y1="411.0" x2="62.6" y2="411.0" stroke="#2b2b2b" stroke-width="1"/>
<text x="45.8" y="415.6" font-size="13.3" text-anchor="end" fill="#141414" stroke="#141414" >5</text>
<line x1="53.6" y1="374.2" x2="62.6" y2="374.2" stroke="#2b2b2b" stroke-width="1"/>
<text x="45.8" y="378.9" font-size="13.3" text-anchor="end" fill="#141414" stroke="#141414" >10</text>
<line x1="53.6" y1="337.5" x2="62.6" y2="337.5" stroke="#2b2b2b" stroke-width="1"/>
<text x="45.8" y="342.1" font-size="13.3" text-anchor="end" fill="#141414" stroke="#141414" >15</text>
<line x1="53.6" y1="300.7" x2="62.6" y2="300.7" stroke="#2b2b2b" stroke-width="1"/>
<text x="45.8" y="305.3" font-size="13.3" text-anchor="end" fill="#141414" stroke="#141414" >20</text>
<line x1="88.0" y1="433.0" x2="88.0" y2="441.8" stroke="#2b2b2b" stroke-width="1"/>
<text x="88.0" y="459.8" font-size="13.3" text-anchor="middle" fill="#141414" stroke="#141414" >20</text>
<line x1="137.3" y1="433.0" x2="137.3" y2="441.8" stroke="#2b2b2b" stroke-width="1"/>
<text x="137.3" y="459.8" font-size="13.3" text-anchor="middle" fill="#141414" stroke="#141414" >40</text>
<line x1="186.6" y1="433.0" x2="186.6" y2="441.8" stroke="#2b2b2b" stroke-width="1"/>
<text x="186.6" y="459.8" font-size="13.3" text-anchor="middle" fill="#141414" stroke="#141414" >60</text>
<line x1="235.8" y1="433.0" x2="235.8" y2="441.8" stroke="#2b2b2b" stroke-width="1"/>
<text x="235.8" y="459.8" font-size="13.3" text-anchor="middle" fill="#141414" stroke="#141414" >80</text>
<line x1="285.1" y1="433.0" x2="285.1" y2="441.8" stroke="#2b2b2b" stroke-width="1"/>
<text x="285.1" y="459.8" font-size="13.3" text-anchor="middle" fill="#141414" stroke="#141414" >100</text>
<line x1="334.4" y1="433.0" x2="334.4" y2="441.8" stroke="#2b2b2b" stroke-width="1"/>
<text x="334.4" y="459.8" font-size="13.3" text-anchor="middle" fill="#141414" stroke="#141414" >120</text>
<text transform="translate(13.0,350.0) rotate(-90)" font-size="13.3" text-anchor="middle" fill="#141414" stroke="#141414">Diaphysis cortical volume (cm<tspan font-size="10" dy="-4.6">3</tspan><tspan dy="4.6">)</tspan></text>
<text x="203.7" y="477.6" font-size="13.3" text-anchor="middle" fill="#141414" stroke="#141414" >Body mass (kg)</text>
<text x="241.5" y="391.7" font-size="13.1" text-anchor="start" fill="#141414" stroke="#141414" >R² = 0.8534</text>
<text x="241.5" y="407.7" font-size="13.1" text-anchor="start" fill="#141414" stroke="#141414" >p-value &lt; 0.0001</text>
<text x="338.6" y="420.8" font-size="15" text-anchor="end" fill="#141414" stroke="#141414" >(c)</text>
<polygon points="85.1,268.1 89.5,275.7 80.6,275.7" fill="#41AF16"/>
<line x1="76.5" y1="279.4" x2="93.4" y2="279.4" stroke="#41AF16" stroke-width="2.5"/>
<text x="101.6" y="277.6" font-size="13.3" text-anchor="start" fill="#41AF16" stroke="none" >wild caught</text>
<circle cx="85.1" cy="294.7" r="2.85" fill="none" stroke="#1DBEC7" stroke-width="1.0"/>
<line x1="76.4" y1="300.7" x2="93.3" y2="300.7" stroke="#1DBEC7" stroke-width="2.5" stroke-dasharray="6.6 3.7"/>
<text x="101.6" y="298.8" font-size="13.3" text-anchor="start" fill="#1DBEC7" stroke="none" >pen</text>
<rect x="82.20" y="312.30" width="5.80" height="5.80" fill="none" stroke="#1B1A72" stroke-width="0.95"/>
<line x1="77.3" y1="321.7" x2="93" y2="321.7" stroke="#1B1A72" stroke-width="2.8" stroke-dasharray="0.01 5.0" stroke-linecap="round"/>
<text x="101.6" y="320.4" font-size="13.3" text-anchor="start" fill="#1B1A72" stroke="none" >stall</text>
<clipPath id="cd"><rect x="423.7" y="261.4" width="282.09999999999997" height="171.60000000000002"/></clipPath>
<line x1="423.7" y1="424.8" x2="705.8" y2="271.1" stroke="#41AF16" stroke-width="2.5" clip-path="url(#cd)"/>
<line x1="423.7" y1="384.9" x2="705.8" y2="264.7" stroke="#1DBEC7" stroke-width="2.5" stroke-dasharray="7.4 2.5" stroke-dashoffset="0" clip-path="url(#cd)"/>
<line x1="423.7" y1="409.2" x2="705.8" y2="261.2" stroke="#1B1A72" stroke-width="2.8" stroke-dasharray="0.01 5.04" stroke-linecap="round" stroke-dashoffset="0" clip-path="url(#cd)"/>
<polygon points="436.4,418.5 440.8,426.1 431.9,426.1" fill="#41AF16"/>
<polygon points="440.7,422.1 445.1,429.7 436.2,429.7" fill="#41AF16"/>
<polygon points="441.4,412.4 445.8,420.0 436.9,420.0" fill="#41AF16"/>
<polygon points="453.3,418.5 457.8,426.1 448.9,426.1" fill="#41AF16"/>
<polygon points="457.4,406.3 461.8,413.9 452.9,413.9" fill="#41AF16"/>
<polygon points="457.4,392.1 461.8,399.7 452.9,399.7" fill="#41AF16"/>
<polygon points="465.4,401.6 469.8,409.2 460.9,409.2" fill="#41AF16"/>
<polygon points="473.6,396.9 478.1,404.5 469.2,404.5" fill="#41AF16"/>
<polygon points="473.6,402.0 478.1,409.6 469.2,409.6" fill="#41AF16"/>
<polygon points="482.0,392.6 486.4,400.2 477.6,400.2" fill="#41AF16"/>
<polygon points="473.6,332.2 478.1,339.8 469.2,339.8" fill="#41AF16"/>
<polygon points="539.1,283.1 543.6,290.7 534.6,290.7" fill="#41AF16"/>
<polygon points="604.3,266.6 608.8,274.2 599.8,274.2" fill="#41AF16"/>
<polygon points="694.1,262.9 698.6,270.5 689.6,270.5" fill="#41AF16"/>
<polygon points="551.3,343.9 555.8,351.5 546.8,351.5" fill="#41AF16"/>
<polygon points="563.6,344.3 568.1,351.9 559.1,351.9" fill="#41AF16"/>
<polygon points="543.0,360.7 547.5,368.3 538.5,368.3" fill="#41AF16"/>
<polygon points="555.4,360.7 559.9,368.3 550.9,368.3" fill="#41AF16"/>
<polygon points="563.6,360.7 568.1,368.3 559.1,368.3" fill="#41AF16"/>
<polygon points="539.1,382.3 543.6,389.9 534.6,389.9" fill="#41AF16"/>
<polygon points="547.2,395.3 551.7,402.9 542.8,402.9" fill="#41AF16"/>
<polygon points="588.2,404.3 592.7,411.9 583.8,411.9" fill="#41AF16"/>
<circle cx="514.5" cy="313.0" r="2.85" fill="none" stroke="#1DBEC7" stroke-width="1.0"/>
<circle cx="514.5" cy="346.3" r="2.85" fill="none" stroke="#1DBEC7" stroke-width="1.0"/>
<circle cx="514.5" cy="361.6" r="2.85" fill="none" stroke="#1DBEC7" stroke-width="1.0"/>
<circle cx="514.5" cy="377.1" r="2.85" fill="none" stroke="#1DBEC7" stroke-width="1.0"/>
<circle cx="563.6" cy="310.0" r="2.85" fill="none" stroke="#1DBEC7" stroke-width="1.0"/>
<circle cx="563.6" cy="312.5" r="2.85" fill="none" stroke="#1DBEC7" stroke-width="1.0"/>
<circle cx="563.6" cy="319.4" r="2.85" fill="none" stroke="#1DBEC7" stroke-width="1.0"/>
<circle cx="563.6" cy="333.3" r="2.85" fill="none" stroke="#1DBEC7" stroke-width="1.0"/>
<circle cx="604.3" cy="290.6" r="2.85" fill="none" stroke="#1DBEC7" stroke-width="1.0"/>
<circle cx="604.3" cy="301.0" r="2.85" fill="none" stroke="#1DBEC7" stroke-width="1.0"/>
<circle cx="604.3" cy="308.5" r="2.85" fill="none" stroke="#1DBEC7" stroke-width="1.0"/>
<circle cx="604.3" cy="327.4" r="2.85" fill="none" stroke="#1DBEC7" stroke-width="1.0"/>
<rect x="511.60" y="353.10" width="5.80" height="5.80" fill="none" stroke="#1B1A72" stroke-width="0.95"/>
<rect x="511.60" y="363.30" width="5.80" height="5.80" fill="none" stroke="#1B1A72" stroke-width="0.95"/>
<rect x="511.60" y="366.40" width="5.80" height="5.80" fill="none" stroke="#1B1A72" stroke-width="0.95"/>
<rect x="511.60" y="369.60" width="5.80" height="5.80" fill="none" stroke="#1B1A72" stroke-width="0.95"/>
<rect x="560.70" y="285.70" width="5.80" height="5.80" fill="none" stroke="#1B1A72" stroke-width="0.95"/>
<rect x="560.70" y="335.60" width="5.80" height="5.80" fill="none" stroke="#1B1A72" stroke-width="0.95"/>
<rect x="560.70" y="345.60" width="5.80" height="5.80" fill="none" stroke="#1B1A72" stroke-width="0.95"/>
<rect x="560.70" y="355.40" width="5.80" height="5.80" fill="none" stroke="#1B1A72" stroke-width="0.95"/>
<rect x="601.40" y="298.70" width="5.80" height="5.80" fill="none" stroke="#1B1A72" stroke-width="0.95"/>
<rect x="601.40" y="303.80" width="5.80" height="5.80" fill="none" stroke="#1B1A72" stroke-width="0.95"/>
<rect x="601.40" y="308.80" width="5.80" height="5.80" fill="none" stroke="#1B1A72" stroke-width="0.95"/>
<rect x="601.40" y="338.10" width="5.80" height="5.80" fill="none" stroke="#1B1A72" stroke-width="0.95"/>
<rect x="423.7" y="261.4" width="282.1" height="171.6" fill="none" stroke="#2b2b2b" stroke-width="0.9"/>
<line x1="414.7" y1="407.4" x2="423.7" y2="407.4" stroke="#2b2b2b" stroke-width="1"/>
<text x="406.9" y="412.1" font-size="13.3" text-anchor="end" fill="#141414" stroke="#141414" >5</text>
<line x1="414.7" y1="371.7" x2="423.7" y2="371.7" stroke="#2b2b2b" stroke-width="1"/>
<text x="406.9" y="376.3" font-size="13.3" text-anchor="end" fill="#141414" stroke="#141414" >10</text>
<line x1="414.7" y1="335.9" x2="423.7" y2="335.9" stroke="#2b2b2b" stroke-width="1"/>
<text x="406.9" y="340.6" font-size="13.3" text-anchor="end" fill="#141414" stroke="#141414" >15</text>
<line x1="414.7" y1="300.2" x2="423.7" y2="300.2" stroke="#2b2b2b" stroke-width="1"/>
<text x="406.9" y="304.8" font-size="13.3" text-anchor="end" fill="#141414" stroke="#141414" >20</text>
<line x1="441.0" y1="433.0" x2="441.0" y2="441.8" stroke="#2b2b2b" stroke-width="1"/>
<text x="441.0" y="459.8" font-size="13.3" text-anchor="middle" fill="#141414" stroke="#141414" >5</text>
<line x1="481.8" y1="433.0" x2="481.8" y2="441.8" stroke="#2b2b2b" stroke-width="1"/>
<text x="481.8" y="459.8" font-size="13.3" text-anchor="middle" fill="#141414" stroke="#141414" >10</text>
<line x1="522.6" y1="433.0" x2="522.6" y2="441.8" stroke="#2b2b2b" stroke-width="1"/>
<text x="522.6" y="459.8" font-size="13.3" text-anchor="middle" fill="#141414" stroke="#141414" >15</text>
<line x1="563.4" y1="433.0" x2="563.4" y2="441.8" stroke="#2b2b2b" stroke-width="1"/>
<text x="563.4" y="459.8" font-size="13.3" text-anchor="middle" fill="#141414" stroke="#141414" >20</text>
<line x1="604.2" y1="433.0" x2="604.2" y2="441.8" stroke="#2b2b2b" stroke-width="1"/>
<text x="604.2" y="459.8" font-size="13.3" text-anchor="middle" fill="#141414" stroke="#141414" >25</text>
<line x1="645.0" y1="433.0" x2="645.0" y2="441.8" stroke="#2b2b2b" stroke-width="1"/>
<text x="645.0" y="459.8" font-size="13.3" text-anchor="middle" fill="#141414" stroke="#141414" >30</text>
<line x1="685.8" y1="433.0" x2="685.8" y2="441.8" stroke="#2b2b2b" stroke-width="1"/>
<text x="685.8" y="459.8" font-size="13.3" text-anchor="middle" fill="#141414" stroke="#141414" >35</text>
<text transform="translate(382.0,350.0) rotate(-90)" font-size="13.3" text-anchor="middle" fill="#141414" stroke="#141414">Diaphysis cortical volume (cm<tspan font-size="10" dy="-4.6">3</tspan><tspan dy="4.6">)</tspan></text>
<text x="565.3" y="477.4" font-size="13.3" text-anchor="middle" fill="#141414" stroke="#141414" >Age (month)</text>
<text x="602.2" y="391.5" font-size="13.1" text-anchor="start" fill="#141414" stroke="#141414" >R² = 0.6004</text>
<text x="602.2" y="408.3" font-size="13.1" text-anchor="start" fill="#141414" stroke="#141414" >p-value &lt; 0.0001</text>
<text x="698.6" y="420.6" font-size="15" text-anchor="end" fill="#141414" stroke="#141414" >(d)</text>
</svg></body></html>
